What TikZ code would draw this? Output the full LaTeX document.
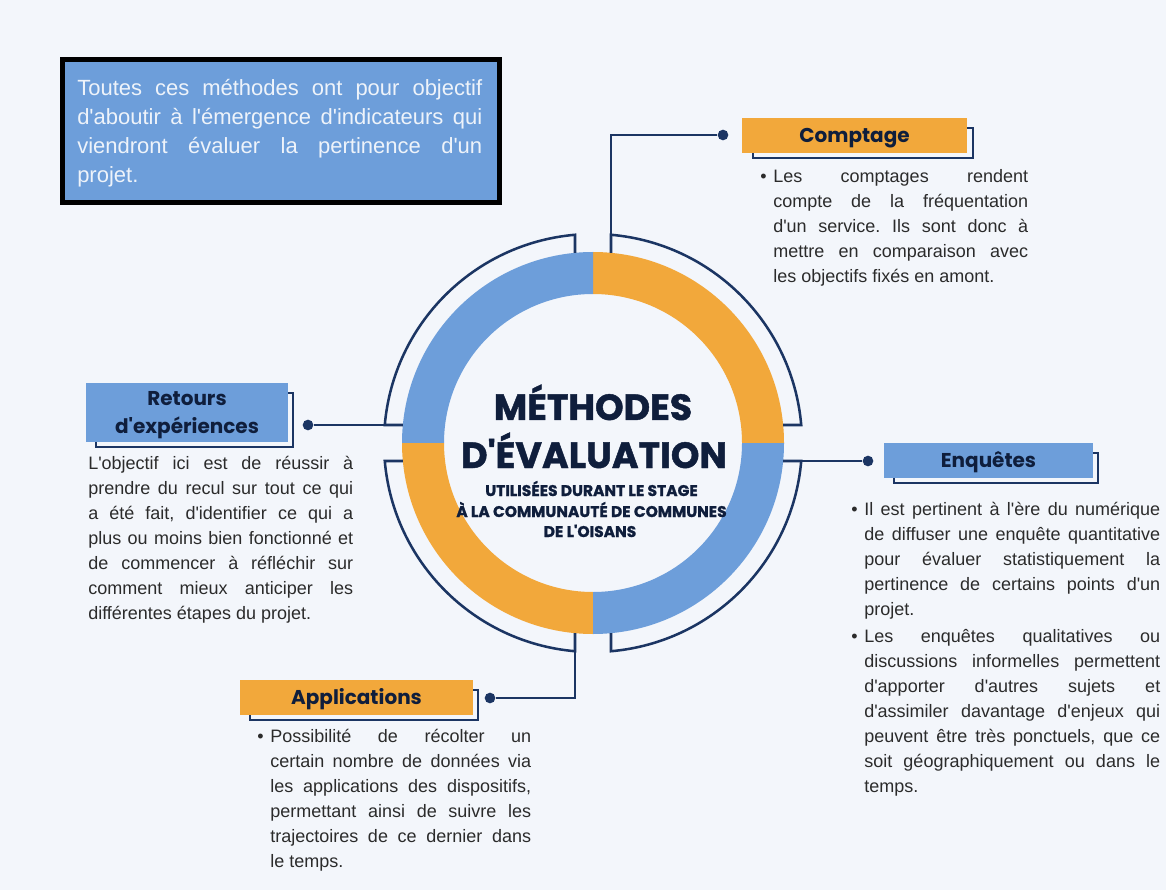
\documentclass[tikz,border=0pt]{standalone}
\usepackage{fontspec}
\setmainfont{Liberation Sans}[Ligatures=TeXOff]
\newfontfamily\pop{Poppins}
\newfontfamily\popheavy{Poppins}[FakeBold=1.2]
\usetikzlibrary{calc}
\definecolor{bgc}{HTML}{F3F6FB}
\definecolor{ringblue}{HTML}{6D9EDA}
\definecolor{ringorange}{HTML}{F2A83B}
\definecolor{navy}{HTML}{0F1E3C}
\definecolor{linec}{HTML}{1B3563}
\definecolor{bodytxt}{HTML}{2B2B2B}
\definecolor{notetxt}{HTML}{EEF3FA}
\hbadness=10000 \vbadness=10000 \hfuzz=30pt \tolerance=10000
\setlength{\parindent}{0pt}
\frenchspacing
\newcommand{\bul}{\leavevmode\llap{\textbullet\hspace{5pt}}}
\begin{document}
\begin{tikzpicture}[x=0.75pt,y=0.75pt,
  conn/.style={draw=linec, line width=1.9pt},
  arcline/.style={draw=linec, line width=1.9pt},
  dotnode/.style={circle, fill=linec, inner sep=0pt, minimum size=8pt},
  labelbox/.style={inner sep=0pt, font=\pop\bfseries\fontsize{15}{21}\selectfont, text=navy, align=center, minimum height=26.25pt, text height=10.5pt, text depth=0pt},
  labeltext/.style={inner sep=0pt, font=\pop\bfseries\fontsize{15}{21}\selectfont, text=navy, anchor=base},
  shadowbox/.style={draw=linec, line width=1.4pt},
  body/.style={inner sep=0pt, anchor=north west, align=justify, text=bodytxt, font=\fontsize{13.5}{18.75}\selectfont},
  titlefont/.style={font=\popheavy\bfseries\fontsize{27.3}{30}\selectfont, text=navy, anchor=base, inner sep=0pt},
  subfont/.style={font=\popheavy\bfseries\fontsize{11.6}{14}\selectfont, text=navy, anchor=base, inner sep=0pt},
]
\useasboundingbox (0,0) rectangle (1166,890);
\fill[bgc] (0,0) rectangle (1166,890);

% ---------- ring ----------
\coordinate (C) at (593,447);
\fill[ringorange] ($(C)+(0,191)$) arc[start angle=90,end angle=0,radius=191] -- ($(C)+(149,0)$) arc[start angle=0,end angle=90,radius=149] -- cycle;
\fill[ringblue] ($(C)+(0,191)$) arc[start angle=90,end angle=180,radius=191] -- ($(C)+(-149,0)$) arc[start angle=180,end angle=90,radius=149] -- cycle;
\fill[ringorange] ($(C)+(-191,0)$) arc[start angle=180,end angle=270,radius=191] -- ($(C)+(0,-149)$) arc[start angle=270,end angle=180,radius=149] -- cycle;
\fill[ringblue] ($(C)+(0,-191)$) arc[start angle=270,end angle=360,radius=191] -- ($(C)+(149,0)$) arc[start angle=360,end angle=270,radius=149] -- cycle;

% ---------- bracket arcs ----------
\coordinate (TRring) at ($(C)+(18,190.15)$);
\coordinate (TRtop) at ($(C)+(18,208.22)$);
\coordinate (TRend) at ($(C)+(190.15,18)$);
\coordinate (TLring) at ($(C)+(-18,190.15)$);
\coordinate (TLtop) at ($(C)+(-18,208.22)$);
\coordinate (TLend) at ($(C)+(-190.15,18)$);
\coordinate (BLring) at ($(C)+(-18,-190.15)$);
\coordinate (BLbot) at ($(C)+(-18,-208.22)$);
\coordinate (BLend) at ($(C)+(-190.15,-18)$);
\coordinate (BRring) at ($(C)+(18,-190.15)$);
\coordinate (BRbot) at ($(C)+(18,-208.22)$);
\coordinate (BRend) at ($(C)+(190.15,-18)$);

\draw[arcline] (TRring) -- (TRtop) arc[start angle=85.06,end angle=4.94,radius=209] -- (TRend);
\draw[arcline] (TLring) -- (TLtop) arc[start angle=94.94,end angle=175.06,radius=209] -- (TLend);
\draw[arcline] (BLring) -- (BLbot) arc[start angle=265.06,end angle=184.94,radius=209] -- (BLend);
\draw[arcline] (BRring) -- (BRbot) arc[start angle=274.94,end angle=355.06,radius=209] -- (BRend);

% ---------- title ----------
\node[titlefont] (t1) at (593,470) {MÉTHODES};
\node[titlefont] (t2) at (594,422) {D'ÉVALUATION};
\node[subfont] (s1) at (591.5,394) {UTILISÉES DURANT LE STAGE};
\node[subfont] (s2) at (591.5,373) {À LA COMMUNAUTÉ DE COMMUNES};
\node[subfont] (s3) at (590,353) {DE L'OISANS};

% ---------- dots + connectors ----------
\node[dotnode] (dC) at (723,755) {};
\node[dotnode] (dR) at (308,465) {};
\node[dotnode] (dE) at (868,429) {};
\node[dotnode] (dA) at (490,192) {};
\draw[conn] (dC) -| (TRtop);
\draw[conn] (dR) -- (TLend);
\draw[conn] (dE) -- (BRend);
\draw[conn] (dA) -| (BLbot);

% ---------- label boxes ----------
\draw[shadowbox] (753,732) rectangle (973,762);
\node[labelbox, fill=ringorange, minimum width=168.75pt] (bC) at (854.5,754.5) {Comptage};
\draw[shadowbox] (96,443) rectangle (293,497);
\node[fill=ringblue, inner sep=0pt, minimum width=151.5pt, minimum height=44.25pt] (bR) at (187,477.5) {};
\node[labeltext] (bR1) at (187,484) {Retours};
\node[labeltext] (bR2) at (187,457) {d'expériences};
\draw[shadowbox] (894,407) rectangle (1098,437);
\node[labelbox, fill=ringblue, minimum width=156.75pt] (bE) at (988.5,429.5) {Enquêtes};
\draw[shadowbox] (250,170) rectangle (478,200);
\node[labelbox, fill=ringorange, minimum width=174.75pt] (bA) at (356.5,192.5) {Applications};

% ---------- note box ----------
\draw[black, line width=3.75pt, fill=ringblue] (62.5,687.5) rectangle (499.5,830.5);
\node[inner sep=0pt, anchor=north west, text width=303.75pt, align=justify, text=notetxt, font=\fontsize{16.5}{21.75}\selectfont] (note) at (77,811)
{Toutes ces méthodes ont pour objectif\linebreak d'aboutir à l'émergence d'indicateurs qui\linebreak viendront évaluer la pertinence d'un\linebreak projet.};

% ---------- body texts ----------
\node[body, text width=191.25pt] (txC) at (773,721)
{\bul Les comptages rendent\linebreak compte de la fréquentation\linebreak d'un service. Ils sont donc à\linebreak mettre en comparaison avec\linebreak les objectifs fixés en amont.};

\node[body, text width=198.75pt] (txR) at (88,434)
{L'objectif ici est de réussir à\linebreak prendre du recul sur tout ce qui\linebreak a été fait, d'identifier ce qui a\linebreak plus ou moins bien fonctionné et\linebreak de commencer à réfléchir sur\linebreak comment mieux anticiper les\linebreak différentes étapes du projet.};

\node[body, text width=222pt] (txE) at (864,388)
{\bul Il est pertinent à l'ère du numérique\linebreak de diffuser une enquête quantitative\linebreak pour évaluer statistiquement la\linebreak pertinence de certains points d'un\linebreak projet.\par\vspace{1.5pt}
\bul Les enquêtes qualitatives ou\linebreak discussions informelles permettent\linebreak d'apporter d'autres sujets et\linebreak d'assimiler davantage d'enjeux qui\linebreak peuvent être très ponctuels, que ce\linebreak soit géographiquement ou dans le\linebreak temps.};

\node[body, text width=195.75pt] (txA) at (270,161)
{\bul Possibilité de récolter un\linebreak certain nombre de données via\linebreak les applications des dispositifs,\linebreak permettant ainsi de suivre les\linebreak trajectoires de ce dernier dans\linebreak le temps.};
\end{tikzpicture}
\end{document}
